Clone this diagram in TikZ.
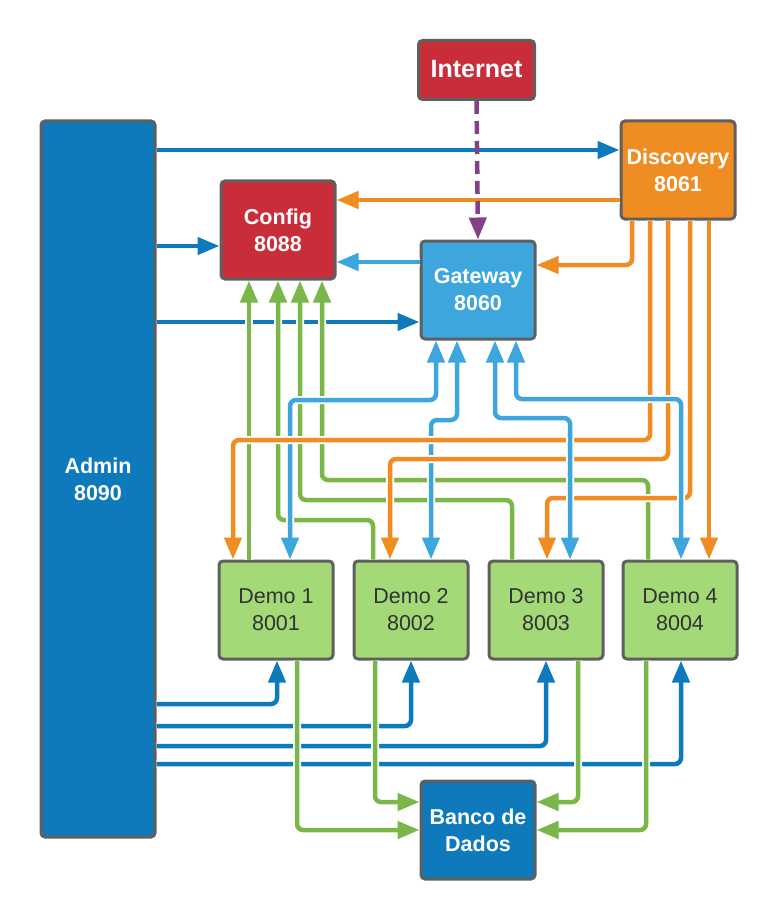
\documentclass[tikz,border=0pt]{standalone}
\usepackage{fontspec}
\setmainfont{Liberation Sans}
\usetikzlibrary{arrows.meta,calc}
\definecolor{dblue}{HTML}{0E7ABB}
\definecolor{lblue}{HTML}{3DA6DD}
\definecolor{cred}{HTML}{C92D39}
\definecolor{corange}{HTML}{EF8D22}
\definecolor{gfill}{HTML}{A3D977}
\definecolor{gline}{HTML}{7AB648}
\definecolor{cpurple}{HTML}{834187}
\definecolor{bord}{HTML}{5F5F5F}
\definecolor{dtext}{HTML}{333333}
\begin{document}
\begin{tikzpicture}[x=1pt,y=-1pt,
  box/.style={rectangle, rounded corners=4pt, draw=bord, line width=3pt,
    minimum width=114pt, minimum height=98pt, inner sep=0pt, align=center,
    text=white, font=\bfseries\fontsize{21.5}{27}\selectfont},
  demobox/.style={box, fill=gfill, text=dtext, font=\fontsize{21.5}{27}\selectfont},
  tip/.style={Triangle[length=22pt,width=17pt]},
  conn/.style={line width=4.5pt, rounded corners=6pt, -{Triangle[length=22pt,width=17pt]},
    preaction={draw=white, line width=8pt}},
  biconn/.style={conn, {Triangle[length=22pt,width=17pt]}-{Triangle[length=22pt,width=17pt]}},
  adm/.style={conn, draw=dblue},
  gr/.style={conn, draw=gline},
  og/.style={conn, draw=corange},
  lb/.style={conn, draw=lblue},
  lbb/.style={biconn, draw=lblue}]
\useasboundingbox (0,0) rectangle (779,920);

% nodes
\node[box, fill=dblue, minimum height=716pt] (admin) at (98,479) {Admin\\8090};
\node[box, fill=cred, minimum width=116pt, minimum height=59pt,
      font=\bfseries\fontsize{25}{30}\selectfont] (internet) at (476.5,70) {\raisebox{1.5pt}{Internet}};
\node[box, fill=corange] (disc) at (678,170) {Discovery\\8061};
\node[box, fill=cred] (config) at (278,230) {Config\\8088};
\node[box, fill=lblue] (gate) at (478,290) {Gateway\\8060};
\node[demobox] (d1) at (276,610) {Demo 1\\8001};
\node[demobox] (d2) at (411,610) {Demo 2\\8002};
\node[demobox] (d3) at (546,610) {Demo 3\\8003};
\node[demobox] (d4) at (680,610) {Demo 4\\8004};
\node[box, fill=dblue] (db) at (478,830) {Banco de\\Dados};

% Admin -> Discovery, Config, Gateway
\draw[adm] (admin.east |- 0,150) -- (disc.west |- 0,150);
\draw[adm] (admin.east |- 0,246) -- (config.west |- 0,246);
\draw[adm] (admin.east |- 0,322) -- (gate.west |- 0,322);

% Discovery -> Config, Gateway -> Config
\draw[og] (disc.west |- 0,200) -- (config.east |- 0,200);
\draw[lb] (gate.west |- 0,262) -- (config.east |- 0,262);

% Internet -> Gateway
\draw[line width=4.5pt, draw=cpurple, dash pattern=on 13pt off 7pt,
      -{Triangle[length=22pt,width=17pt]}] (internet.south) -- (gate.north);

% Demo -> Config (green)
\draw[gr] (d1.north -| 249,0) -- (config.south -| 249,0);
\draw[gr] (d2.north -| 373,0) -- (373,520) -- (278,520) -- (config.south -| 278,0);
\draw[gr] (d3.north -| 512,0) -- (512,500) -- (300,500) -- (config.south -| 300,0);
\draw[gr] (d4.north -| 648,0) -- (648,480) -- (322,480) -- (config.south -| 322,0);

% Gateway <-> Demo 1,2
\draw[lbb] (gate.south -| 436,0) -- (436,400) -- (290,400) -- (d1.north -| 290,0);
\draw[lbb] (gate.south -| 457,0) -- (457,420) -- (431,420) -- (d2.north -| 431,0);

% Discovery -> Gateway, Demos
\draw[og] (disc.south -| 632,0) -- (632,265) -- (gate.east |- 0,265);
\draw[og] (disc.south -| 650,0) -- (650,440) -- (233,440) -- (d1.north -| 233,0);
\draw[og] (disc.south -| 668,0) -- (668,459) -- (390,459) -- (d2.north -| 390,0);
\draw[og] (disc.south -| 690,0) -- (690,498) -- (547,498) -- (d3.north -| 547,0);
\draw[og] (disc.south -| 709,0) -- (d4.north -| 709,0);

% Gateway <-> Demo 3,4
\draw[lbb] (gate.south -| 495,0) -- (495,418) -- (570,418) -- (d3.north -| 570,0);
\draw[lbb] (gate.south -| 516,0) -- (516,399) -- (681,399) -- (d4.north -| 681,0);

% Admin -> Demos
\draw[adm] (admin.east |- 0,704) -- (277,704) -- (d1.south -| 277,0);
\draw[adm] (admin.east |- 0,726) -- (411,726) -- (d2.south -| 411,0);
\draw[adm] (admin.east |- 0,746) -- (546,746) -- (d3.south -| 546,0);
\draw[adm] (admin.east |- 0,764) -- (681,764) -- (d4.south -| 681,0);

% Demos -> Banco
\draw[gr] (d1.south -| 297,0) -- (297,830) -- (db.west |- 0,830);
\draw[gr] (d2.south -| 375,0) -- (375,802) -- (db.west |- 0,802);
\draw[gr] (d3.south -| 578,0) -- (578,802) -- (db.east |- 0,802);
\draw[gr] (d4.south -| 646,0) -- (646,830) -- (db.east |- 0,830);
\end{tikzpicture}
\end{document}
